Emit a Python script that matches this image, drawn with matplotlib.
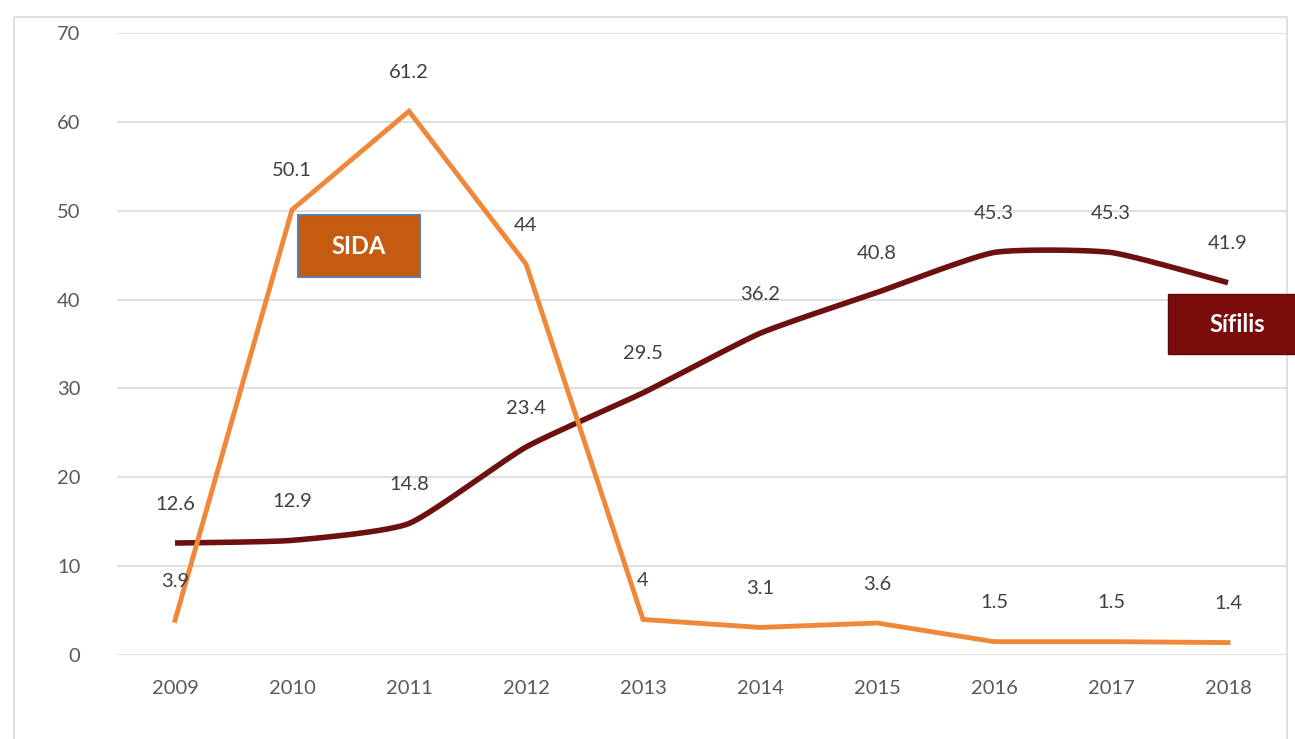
import numpy as np
import matplotlib
matplotlib.use("Agg")
import matplotlib.pyplot as plt
from matplotlib.patches import Rectangle

years = ["2009", "2010", "2011", "2012", "2013", "2014", "2015", "2016", "2017", "2018"]
sifilis = [12.6, 12.9, 14.8, 23.4, 29.5, 36.2, 40.8, 45.3, 45.3, 41.9]
sida = [3.9, 50.1, 61.2, 44, 4, 3.1, 3.6, 1.5, 1.5, 1.4]
sifilis_labels = ["12.6", "12.9", "14.8", "23.4", "29.5", "36.2", "40.8", "45.3", "45.3", "41.9"]
sida_labels = ["3.9", "50.1", "61.2", "44", "4", "3.1", "3.6", "1.5", "1.5", "1.4"]
yticks = [0, 10, 20, 30, 40, 50, 60, 70]

plt.rcParams['font.family'] = ['Lato', 'DejaVu Sans']

ORANGE = "#F0883A"
MAROON = "#6E1010"
GRAY = "#595959"


def smooth(x, y, tension=0.09, n=40):
    """Smoothed line: cubic Bezier segments with Catmull-Rom style control points."""
    x = np.asarray(x, float)
    y = np.asarray(y, float)
    px = np.concatenate([[x[0]], x, [x[-1]]])
    py = np.concatenate([[y[0]], y, [y[-1]]])
    xs, ys = [], []
    t = np.linspace(0, 1, n)
    for i in range(1, len(px) - 2):
        p0 = np.array([px[i], py[i]])
        p3 = np.array([px[i + 1], py[i + 1]])
        c1 = p0 + (np.array([px[i + 1], py[i + 1]]) - np.array([px[i - 1], py[i - 1]])) * tension
        c2 = p3 - (np.array([px[i + 2], py[i + 2]]) - np.array([px[i], py[i]])) * tension
        b = (((1 - t) ** 3)[:, None] * p0 + (3 * (1 - t) ** 2 * t)[:, None] * c1
             + (3 * (1 - t) * t ** 2)[:, None] * c2 + (t ** 3)[:, None] * p3)
        xs.append(b[:, 0])
        ys.append(b[:, 1])
    return np.concatenate(xs), np.concatenate(ys)


W, H = 1295, 739
fig = plt.figure(figsize=(W / 100, H / 100), dpi=100)
ax = fig.add_axes([116.5 / W, 1 - 655 / H, 1170 / W, 622 / H])

# light frame around the chart area
fig.patches.append(Rectangle((14 / W, -0.01), 1273 / W, 1 - 17 / H + 0.01,
                             transform=fig.transFigure, fill=False,
                             edgecolor="#D9D9D9", linewidth=1.2))

xpos = np.arange(len(years))
sx, sy = smooth(xpos, sifilis)
ax.plot(sx, sy, color=MAROON, linewidth=4, solid_capstyle="butt", zorder=3)
ax.plot(xpos, sida, color=ORANGE, linewidth=3.5, solid_joinstyle="miter", zorder=4)

for xi, v, lab in zip(xpos, sifilis, sifilis_labels):
    ax.annotate(lab, (xi, v), xytext=(0, 28), textcoords="offset points",
                ha="center", va="center", fontsize=14.5, color="#404040", zorder=5)
for xi, v, lab in zip(xpos, sida, sida_labels):
    ax.annotate(lab, (xi, v), xytext=(0, 28), textcoords="offset points",
                ha="center", va="center", fontsize=14.5, color="#404040", zorder=5)

ax.set_xlim(-0.5, len(years) - 0.5)
ax.set_ylim(0, 70)
ax.set_yticks(yticks)
ax.set_xticks(xpos)
ax.set_xticklabels(years)
ax.grid(axis="y", color="#D9D9D9", linewidth=1.2)
ax.set_axisbelow(True)
for s in ax.spines.values():
    s.set_visible(False)
ax.tick_params(axis="both", length=0, labelsize=14.5, colors=GRAY)
ax.tick_params(axis="y", pad=26)
ax.tick_params(axis="x", pad=18)

# series name boxes
fig.patches.append(Rectangle((298 / W, 1 - 277 / H), 122 / W, 62 / H,
                             transform=fig.transFigure, facecolor="#C55A11",
                             edgecolor="#5B7FA6", linewidth=1.5, zorder=6))
fig.text(359 / W, 1 - 247 / H, "SIDA", ha="center", va="center",
         fontsize=17, fontweight="bold", color="white", zorder=7)
fig.patches.append(Rectangle((1168 / W, 1 - 354 / H), 140 / W, 60 / H,
                             transform=fig.transFigure, facecolor="#7B0C0C",
                             edgecolor="#5A0808", linewidth=1, zorder=6))
fig.text(1237 / W, 1 - 325 / H, "Sífilis", ha="center", va="center",
         fontsize=17, fontweight="bold", color="white", zorder=7)

fig.savefig("out.png", dpi=100, facecolor="white")
